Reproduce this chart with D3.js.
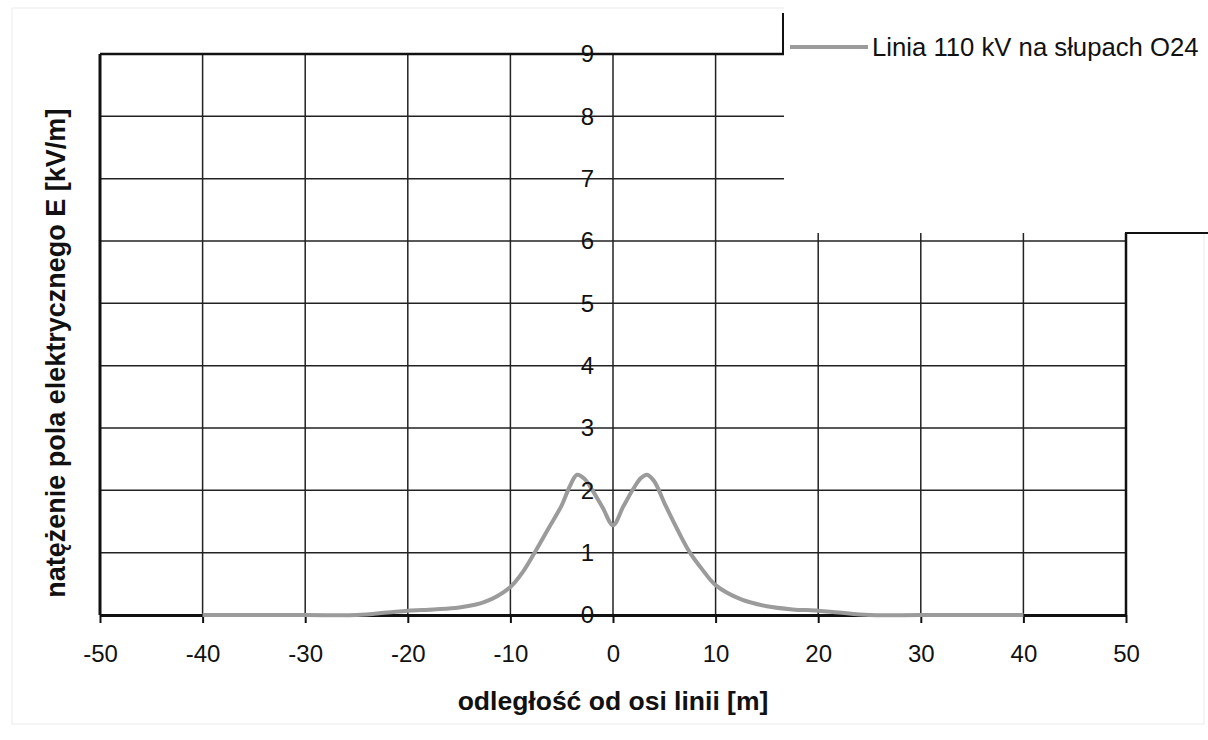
<!DOCTYPE html>
<html><head><meta charset="utf-8">
<script src="https://cdn.jsdelivr.net/npm/d3@7"></script>
<style>
html,body{margin:0;padding:0;background:#fff;}
svg{display:block;}
text{font-family:"Liberation Sans",Arial,sans-serif;fill:#111;}
</style></head>
<body>
<svg id="chart" width="1208" height="740"></svg>
<script>
const distances = [-40,-30,-25,-22,-20,-17.5,-15,-12.5,-10,-8.75,-7.5,-6.25,-5,-4.25,-3.5,-2.75,-2,-1,0,1,2,2.75,3.3,4,5,6.25,7.5,8.75,10,12.5,15,17.5,20,22,25,30,40];
const fieldE   = [0,0,0,0.04,0.07,0.09,0.12,0.21,0.45,0.70,1.04,1.40,1.76,2.05,2.25,2.18,2.0,1.72,1.44,1.74,2.03,2.2,2.25,2.15,1.80,1.38,1.00,0.72,0.48,0.25,0.14,0.09,0.07,0.04,0,0,0];
const xTicks = [-50,-40,-30,-20,-10,0,10,20,30,40,50];
const yTicks = [0,1,2,3,4,5,6,7,8,9];
const seriesName = "Linia 110 kV na słupach O24";
const xTitle = "odległość od osi linii [m]";
const yTitle = "natężenie pola elektrycznego E [kV/m]";

const svg = d3.select("#chart");
const x = d3.scaleLinear().domain([-50,50]).range([100,1126]);
const y = d3.scaleLinear().domain([0,9]).range([615,54]);

// faint page border
svg.append("rect").attr("x",12).attr("y",8).attr("width",1192).attr("height",716)
  .attr("fill","none").attr("stroke","#ececec").attr("stroke-width",1);

// grid
const grid = svg.append("g");
grid.selectAll("line.h").data(yTicks.filter(d=>d>0 && d<9)).join("line")
  .attr("x1",x(-50)).attr("x2",x(50)).attr("y1",d=>y(d)).attr("y2",d=>y(d))
  .attr("stroke","#222").attr("stroke-width",1.5);
grid.selectAll("line.v").data(xTicks.filter(d=>d>-50 && d<50)).join("line")
  .attr("x1",d=>x(d)).attr("x2",d=>x(d)).attr("y1",y(9)).attr("y2",y(0))
  .attr("stroke","#222").attr("stroke-width",1.5);

// frame
svg.append("line").attr("x1",x(-50)).attr("x2",x(50)).attr("y1",y(9)).attr("y2",y(9)).attr("stroke","#111").attr("stroke-width",2.5);
svg.append("line").attr("x1",x(-50)).attr("x2",x(-50)).attr("y1",y(9)).attr("y2",y(0)).attr("stroke","#111").attr("stroke-width",3);
svg.append("line").attr("x1",x(50)).attr("x2",x(50)).attr("y1",y(9)).attr("y2",y(0)).attr("stroke","#111").attr("stroke-width",2.5);

// white legend box covering top-right
svg.append("rect").attr("x",784).attr("y",0).attr("width",424).attr("height",233).attr("fill","#fff");
svg.append("line").attr("x1",783).attr("x2",783).attr("y1",13).attr("y2",y(9)+1).attr("stroke","#111").attr("stroke-width",2);
svg.append("line").attr("x1",x(50)-1).attr("x2",1208).attr("y1",233).attr("y2",233).attr("stroke","#111").attr("stroke-width",2);

// x axis
const xAxis = svg.append("g").attr("transform",`translate(0,${y(0)})`)
  .call(d3.axisBottom(x).tickValues(xTicks).tickFormat(d=>String(d)).tickSize(8).tickPadding(22).tickSizeOuter(0));
xAxis.select(".domain").attr("stroke","#111").attr("stroke-width",3);
xAxis.selectAll(".tick line").attr("stroke","#111").attr("stroke-width",2);
xAxis.selectAll(".tick text").attr("font-size",24).attr("font-family","Liberation Sans, Arial, sans-serif").attr("fill","#111");

// curve
const line = d3.line().x((d,i)=>x(distances[i])).y(d=>y(d)).curve(d3.curveCatmullRom.alpha(0.5));
svg.append("path").datum(fieldE).attr("d",line).attr("fill","none")
  .attr("stroke","#9b9b9b").attr("stroke-width",4).attr("stroke-linejoin","round");

// y axis at x=0
const yAxis = svg.append("g").attr("transform",`translate(${x(0)},0)`)
  .call(d3.axisLeft(y).tickValues(yTicks).tickFormat(d=>String(d)).tickSize(0).tickPadding(19));
yAxis.select(".domain").remove();
yAxis.selectAll(".tick text").attr("font-size",24).attr("font-family","Liberation Sans, Arial, sans-serif").attr("fill","#111");

// titles
svg.append("text").attr("x",613).attr("y",710).attr("text-anchor","middle")
  .attr("font-size",26.5).attr("font-weight","bold").text(xTitle);
svg.append("text").attr("transform",`translate(65,${y(4.2)}) rotate(-90)`).attr("text-anchor","middle")
  .attr("font-size",27).attr("font-weight","bold").text(yTitle);

// legend
svg.append("line").attr("x1",790).attr("x2",868).attr("y1",47).attr("y2",47)
  .attr("stroke","#9b9b9b").attr("stroke-width",4);
svg.append("text").attr("x",872).attr("y",56).attr("font-size",25.7).text(seriesName);
</script>
</body></html>
